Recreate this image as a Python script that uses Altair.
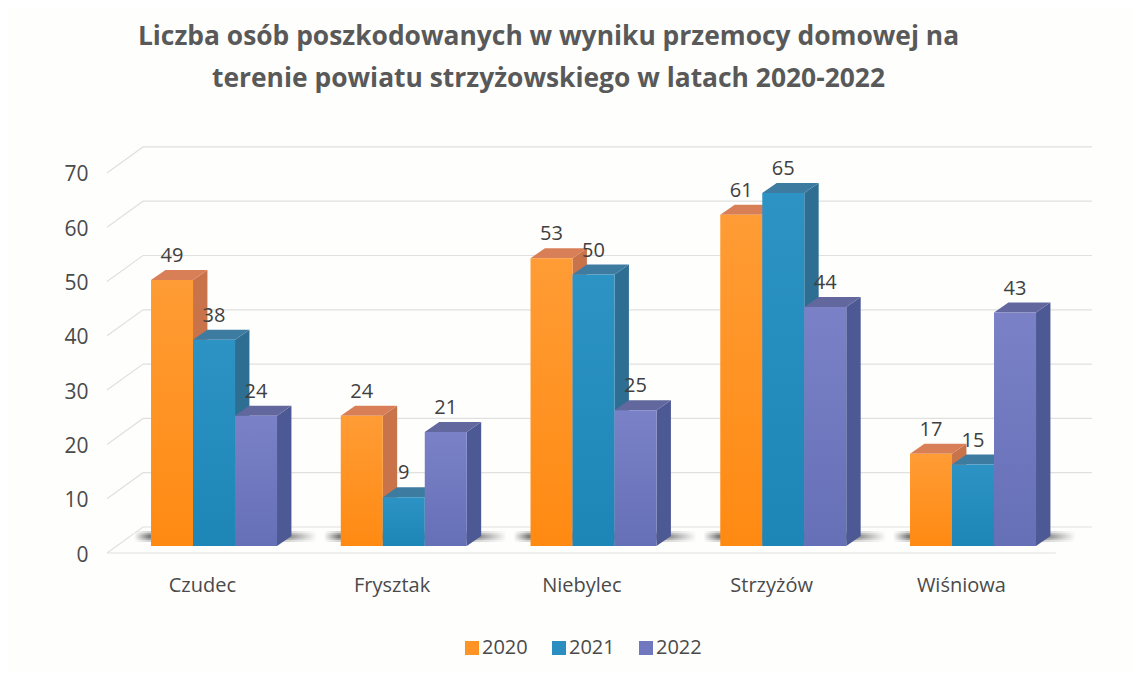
import json
import altair as alt
import pandas as pd

categories = ["Czudec", "Frysztak", "Niebylec", "Strzyżów", "Wiśniowa"]
years = ["2020", "2021", "2022"]
values_2020 = [49, 24, 53, 61, 17]
values_2021 = [38, 9, 50, 65, 15]
values_2022 = [24, 21, 25, 44, 43]
series = dict(zip(years, [values_2020, values_2021, values_2022]))
grid_values = [0, 10, 20, 30, 40, 50, 60, 70]

front_colors = {"2020": ("#FF9C35", "#FF8A12"), "2021": ("#2C93C4", "#1E86B6"), "2022": ("#7A81C7", "#6670B6")}
side_colors = {"2020": "#C8734A", "2021": "#2F6E93", "2022": "#4D5994"}
top_colors = {"2020": "#D97F58", "2021": "#3E7BA1", "2022": "#62689E"}
legend_colors = ["#FF9426", "#2A8FC0", "#7078BF"]

PX_X, PX_Y = 189.75, 5.43
BAR_W = 42 / PX_X
START = -0.268
BASE = 7 / PX_Y
DX, DY = 14.4 / PX_X, 10 / PX_Y
WALL_X, WALL_Y = 36 / PX_X, 26 / PX_Y

x_scale = alt.Scale(domain=[-0.5, -0.5 + 985 / PX_X], nice=False, zero=False)
y_scale = alt.Scale(domain=[0, 406 / PX_Y], nice=False, zero=False)
x_axis = alt.Axis(
    values=list(range(5)), labelExpr=json.dumps(categories) + "[datum.value]", domain=False, ticks=False,
    grid=False, labelFontSize=20, labelFont="Open Sans", labelColor="#4A4A4A", labelPadding=22, title=None)
y_axis = alt.Axis(
    values=grid_values, domain=False, ticks=False, grid=False, labelFontSize=21, labelFont="Open Sans",
    labelColor="#4A4A4A", labelPadding=19, labelOffset=2, title=None)
X = lambda f="x": alt.X(f, type="quantitative", scale=x_scale, axis=x_axis)
Y = lambda f="y": alt.Y(f, type="quantitative", scale=y_scale, axis=y_axis)


def vertical(c):
    return alt.Gradient(gradient="linear", x1=0, x2=0, y1=0, y2=1,
                        stops=[alt.GradientStop(offset=0, color=c[0]), alt.GradientStop(offset=1, color=c[1])])


# back wall and floor lines
grid_rows = []
for v in grid_values:
    grid_rows += [
        {"k": v, "x": -0.5, "y": v},
        {"k": v, "x": -0.5 + WALL_X, "y": v + WALL_Y},
        {"k": v, "x": -0.5 + 985 / PX_X, "y": v + WALL_Y},
    ]
grid_rows += [{"k": "floor", "x": -0.5, "y": 0}, {"k": "floor", "x": 4.5, "y": 0}]
grid = alt.Chart(pd.DataFrame(grid_rows)).mark_line(color="#E0E0E0", strokeWidth=1.2).encode(
    x=X(), y=Y(), detail="k:N"
)

# floor shadows
shadow_fill = alt.Gradient(gradient="linear", x1=0, x2=1, y1=0, y2=0, stops=[
    alt.GradientStop(offset=0, color="#ffffff"),
    alt.GradientStop(offset=0.08, color="#6E6E6E"),
    alt.GradientStop(offset=0.80, color="#5A5A5A"),
    alt.GradientStop(offset=1, color="#ffffff"),
])
shadow_layers = []
for half, op in [(5.5, 0.3), (3.5, 0.45), (1.8, 0.7)]:
    rows = [{"x": i + START - 17 / PX_X, "x2": i + START + 3 * BAR_W + 40 / PX_X,
             "y": BASE + (9.5 - half) / PX_Y, "y2": BASE + (9.5 + half) / PX_Y} for i in range(5)]
    shadow_layers.append(alt.Chart(pd.DataFrame(rows)).mark_rect(fill=shadow_fill, opacity=op).encode(
        x=X(), x2="x2:Q", y=Y(), y2="y2:Q"))

layers = [grid] + shadow_layers
label_rows = []
for s, year in enumerate(years):
    side_rows, top_rows, front_rows = [], [], []
    for i, v in enumerate(series[year]):
        left = i + START + s * BAR_W
        right = left + BAR_W
        top = v + BASE
        front_rows.append({"x": left, "x2": right, "y": BASE, "y2": top})
        side_rows += [
            {"b": i, "x": right, "y": top, "y2": BASE},
            {"b": i, "x": right + DX, "y": top + DY, "y2": BASE + DY},
        ]
        top_rows += [
            {"b": i, "y": top, "x": left, "x2": right},
            {"b": i, "y": top + DY, "x": left + DX, "x2": right + DX},
        ]
        label_rows.append({"x": (left + right) / 2, "y": top, "v": v})
    layers.append(alt.Chart(pd.DataFrame(side_rows)).mark_area(color=side_colors[year]).encode(
        x=X(), y=Y(), y2="y2:Q", detail="b:N"))
    layers.append(alt.Chart(pd.DataFrame(top_rows)).mark_area(color=top_colors[year], orient="horizontal").encode(
        y=Y(), x=X(), x2="x2:Q", detail="b:N"))
    layers.append(alt.Chart(pd.DataFrame(front_rows)).mark_rect(fill=vertical(front_colors[year])).encode(
        x=X(), x2="x2:Q", y=Y(), y2="y2:Q"))

labels = alt.Chart(pd.DataFrame(label_rows)).mark_text(
    font="Open Sans", fontSize=20, color="#404040", dy=-24
).encode(x=X(), y=Y(), text="v:Q")
layers.append(labels)

legend = alt.Chart(pd.DataFrame({"year": years})).mark_point(filled=True, size=0).encode(
    x=alt.value(0), y=alt.value(0),
    color=alt.Color("year:N", scale=alt.Scale(domain=years, range=legend_colors), legend=alt.Legend(
        title=None, orient="none", legendX=355, legendY=491, direction="horizontal", columns=3,
        symbolType="square", symbolSize=196, symbolOpacity=1, symbolStrokeWidth=0, labelFontSize=20,
        labelFont="Open Sans", labelColor="#4A4A4A", columnPadding=21, labelOffset=0)),
)
layers.append(legend)

chart = alt.layer(*layers).properties(
    width=985, height=406,
    padding={"left": 99, "top": 139, "right": 40, "bottom": 119},
    autosize=alt.AutoSizeParams(type="none"),
    background="#FEFEFD",
    title=alt.TitleParams(
        text=["Liczba osób poszkodowanych w wyniku przemocy domowej na",
              "terenie powiatu strzyżowskiego w latach 2020-2022"],
        anchor="middle", dx=-51, offset=52, font="Open Sans", fontSize=26.4, fontWeight="bold",
        color="#595959", lineHeight=42),
).configure_view(stroke=None)

chart.save("out.html", embed_options={"renderer": "svg", "actions": False})
